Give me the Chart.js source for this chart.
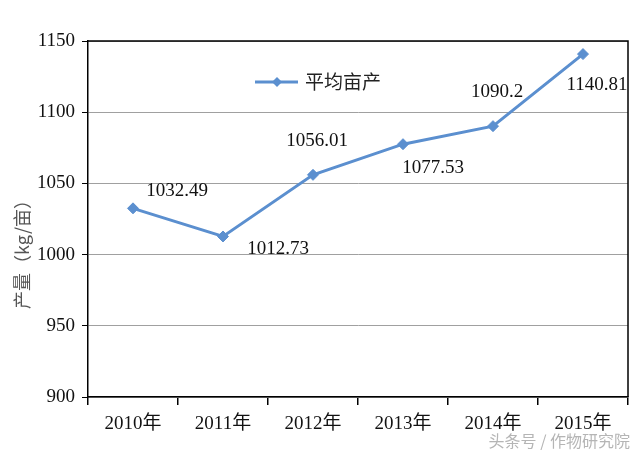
<!DOCTYPE html>
<html>
<head>
<meta charset="utf-8">
<script src="https://cdn.jsdelivr.net/npm/chart.js@4"></script>
<style>
  html, body { margin: 0; padding: 0; background: #fff; }
  #wrap { width: 640px; height: 455px; }
</style>
</head>
<body>
<div id="wrap"><canvas id="myChart" width="640" height="455"></canvas></div>
<script>
// data
const years = ['2010年', '2011年', '2012年', '2013年', '2014年', '2015年'];
const yieldPerMu = [1032.49, 1012.73, 1056.01, 1077.53, 1090.2, 1140.81];
const yTicks = [900, 950, 1000, 1050, 1100, 1150];
const seriesName = '平均亩产';
const yTitle = '产量（kg/亩）';
const watermark = '头条号 / 作物研究院';

// where each value label sits relative to its point (px)
const labelOffsets = [[44, -17], [55, 13], [4, -34], [30, 24], [4, -34], [14, 31]];

const lineColor = '#5b8fcf';
const serif = '"Liberation Serif", "Times New Roman", "Noto Sans CJK SC", serif';
const cjk = '"Noto Sans CJK SC", sans-serif';

// value labels, frame, legend, y title and watermark
const extras = {
    id: 'extras',
    afterDatasetsDraw(chart) {
        const ctx = chart.ctx;
        const area = chart.chartArea;
        const meta = chart.getDatasetMeta(0);

        // top and right frame lines
        ctx.save();
        ctx.strokeStyle = '#000';
        ctx.lineWidth = 1.5;
        ctx.beginPath();
        ctx.moveTo(area.left, area.top);
        ctx.lineTo(area.right, area.top);
        ctx.lineTo(area.right, area.bottom);
        ctx.stroke();

        // value labels
        ctx.fillStyle = '#111';
        ctx.font = '19px ' + serif;
        ctx.textAlign = 'center';
        ctx.textBaseline = 'middle';
        meta.data.forEach((pt, i) => {
            const off = labelOffsets[i];
            ctx.fillText(String(yieldPerMu[i]), pt.x + off[0], pt.y + off[1]);
        });

        // legend inside plot
        const lx = 255, ly = 82;
        ctx.strokeStyle = lineColor;
        ctx.lineWidth = 3;
        ctx.beginPath();
        ctx.moveTo(lx, ly);
        ctx.lineTo(lx + 43, ly);
        ctx.stroke();
        ctx.fillStyle = lineColor;
        ctx.beginPath();
        ctx.moveTo(lx + 22, ly - 5);
        ctx.lineTo(lx + 27, ly);
        ctx.lineTo(lx + 22, ly + 5);
        ctx.lineTo(lx + 17, ly);
        ctx.closePath();
        ctx.fill();
        ctx.fillStyle = '#222';
        ctx.font = '19px ' + cjk;
        ctx.textAlign = 'left';
        ctx.fillText(seriesName, lx + 50, ly);

        // y axis title
        ctx.save();
        ctx.translate(22, 250);
        ctx.rotate(-Math.PI / 2);
        ctx.fillStyle = '#555';
        ctx.font = '18px ' + cjk;
        ctx.textAlign = 'center';
        ctx.fillText(yTitle, 0, 0);
        ctx.restore();

        // watermark
        ctx.fillStyle = '#b5b5b5';
        ctx.font = '16px ' + cjk;
        ctx.textAlign = 'right';
        ctx.fillText(watermark, 630, 441);
        ctx.restore();
    }
};

const ctx = document.getElementById('myChart').getContext('2d');
const myChart = new Chart(ctx, {
    type: 'line',
    data: {
        labels: years,
        datasets: [{
            label: seriesName,
            data: yieldPerMu,
            borderColor: lineColor,
            backgroundColor: lineColor,
            borderWidth: 3,
            pointStyle: 'rectRot',
            pointRadius: 5.5,
            pointBackgroundColor: lineColor,
            pointBorderColor: lineColor,
            pointBorderWidth: 1,
            tension: 0
        }]
    },
    options: {
        responsive: false,
        animation: false,
        layout: { padding: { top: 41, right: 12, left: 0, bottom: 0 } },
        scales: {
            x: {
                offset: true,
                grid: {
                    offset: true,
                    drawOnChartArea: false,
                    color: '#000',
                    tickLength: 8,
                    lineWidth: 1.5
                },
                border: { color: '#000', width: 1.5 },
                ticks: {
                    color: '#111',
                    padding: 8,
                    font: { family: serif, size: 19 },
                    maxRotation: 0
                },
                afterFit(scale) { scale.height = 58; }
            },
            y: {
                min: 900,
                max: 1150,
                afterBuildTicks(scale) {
                    scale.ticks = yTicks.map(v => ({ value: v }));
                },
                grid: {
                    color: '#a0a0a0',
                    tickColor: '#000',
                    tickLength: 6,
                    lineWidth: 1
                },
                border: { color: '#000', width: 1.5 },
                ticks: {
                    color: '#111',
                    padding: 7,
                    font: { family: serif, size: 19 },
                    callback: function(value) {
                        return String(value);
                    }
                },
                afterFit(scale) { scale.width = 88; }
            }
        },
        plugins: {
            legend: { display: false },
            tooltip: { enabled: false },
            title: { display: false }
        }
    },
    plugins: [extras]
});
</script>
</body>
</html>
